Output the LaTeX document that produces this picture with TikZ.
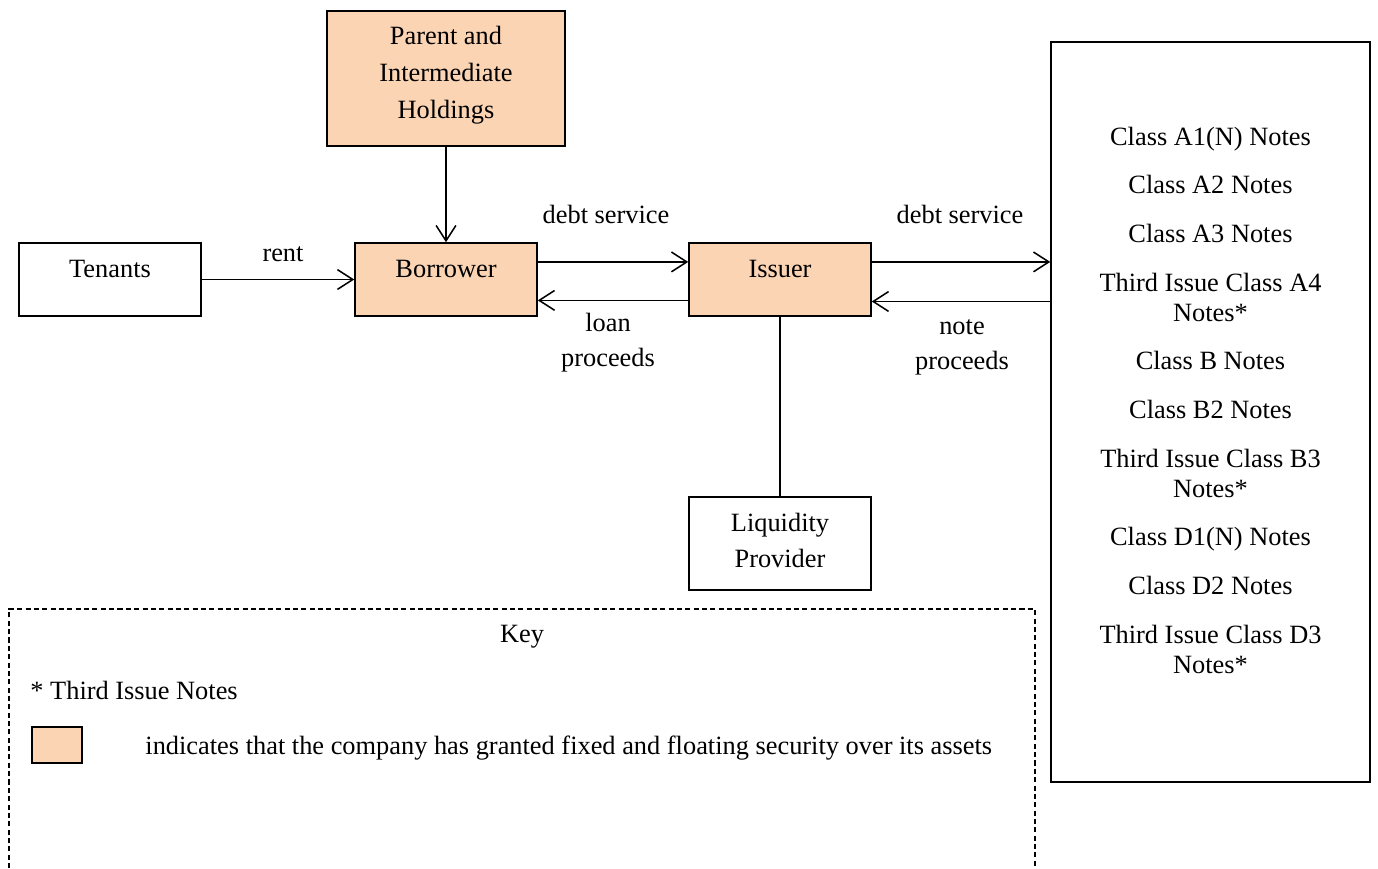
\documentclass[tikz,border=0pt]{standalone}
\usepackage{fontspec}
\setmainfont{Liberation Serif}
\usetikzlibrary{arrows.meta,positioning}
\definecolor{peach}{HTML}{FBD4B4}
% lines of a box, baseline on the first one
\newcommand{\boxlines}[1]{\begin{tabular}[t]{@{}c@{}}#1\end{tabular}}

\begin{document}
\begin{tikzpicture}[x=0.455pt, y=-0.455pt, font=\fontsize{12}{16.7}\selectfont,
    box/.style={draw, line width=0.7pt, inner xsep=2pt, inner ysep=0pt,
                minimum width=82.8pt, text height=15.5pt},
    secured/.style={box, fill=peach},
    flow/.style={-{Straight Barb[length=7pt,width=9pt]}, line width=0.7pt},
    lbl/.style={inner sep=0pt, align=center}]
    \useasboundingbox (0,0) rectangle (1378,868);

    % parties
    \node[secured, minimum width=108.3pt, text depth=46pt] (parent) at (446,78.5) {\boxlines{Parent and\\Intermediate\\Holdings}};
    \node[box, text depth=17.7pt] (tenants) at (110,279.5) {Tenants};
    \node[secured, text depth=17.7pt] (borrower) at (446,279.5) {Borrower};
    \node[secured, text depth=17.7pt] (issuer) at (780,279.5) {Issuer};
    \node[box, text depth=26.8pt] (liquidity) at (780,543.5) {\boxlines{Liquidity\\Provider}};
    \node[box, minimum width=145.1pt, text height=46.9pt, text depth=289.8pt,
          font=\fontsize{12}{13.65}\selectfont] (notes) at (1210.5,412)
        {\boxlines{Class A1(N) Notes\\[8.5pt]
         Class A2 Notes\\[8.5pt]
         Class A3 Notes\\[8.5pt]
         Third Issue Class A4\\Notes*\\[8.5pt]
         Class B Notes\\[8.5pt]
         Class B2 Notes\\[8.5pt]
         Third Issue Class B3\\Notes*\\[8.5pt]
         Class D1(N) Notes\\[8.5pt]
         Class D2 Notes\\[8.5pt]
         Third Issue Class D3\\Notes*}};

    % flows
    \draw[flow] (parent) -- (borrower);
    \draw[flow] (tenants) -- (borrower);
    \draw[flow] ([yshift=8pt]borrower.east) -- ([yshift=8pt]issuer.west);
    \draw[flow] ([yshift=-9.5pt]issuer.west) -- ([yshift=-9.5pt]borrower.east);
    \draw[flow] ([yshift=8pt]issuer.east) -- ([yshift=8pt]issuer.east -| notes.west);
    \draw[flow] ([yshift=-10pt]issuer.east -| notes.west) -- ([yshift=-10pt]issuer.east);
    \draw[line width=0.7pt] (issuer) -- (liquidity);

    \node[lbl] (rent) at (283,254) {rent};
    \node[lbl] (debt1) at (606,214) {debt service};
    \node[lbl] (debt2) at (960,214) {debt service};
    \node[lbl, font=\fontsize{12}{16}\selectfont] (loan) at (608,342.5) {loan\\proceeds};
    \node[lbl, font=\fontsize{12}{16}\selectfont] (noteproc) at (962,347.5) {note\\proceeds};

    % key
    \draw[line width=0.6pt, dash pattern=on 2.3pt off 1.5pt] (9,868) -- (9,609) -- (1035,609) -- (1035,868);
    \node[lbl] (key) at (522,637) {Key};
    \node[lbl, anchor=west] (star) at (30,690) {* Third Issue Notes};
    \node[secured, minimum width=22.75pt, text height=0pt, text depth=16.4pt, line width=0.6pt] (swatch) at (57,745) {};
    \node[lbl, anchor=west] (meaning) at (145,748) {indicates that the company has granted fixed and floating security over its assets};
\end{tikzpicture}
\end{document}
